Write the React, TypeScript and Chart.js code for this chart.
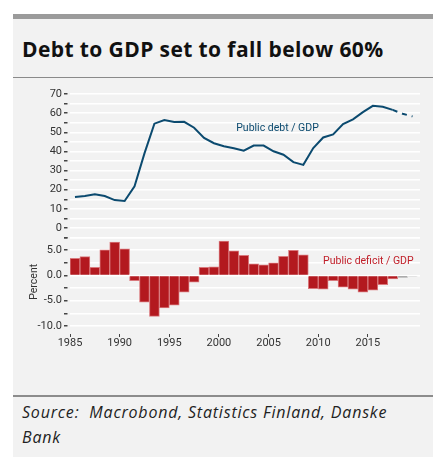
import React, { useEffect, useRef } from "react";
import { Chart, registerables } from "chart.js";

Chart.register(...registerables);

const years = [
  1985, 1986, 1987, 1988, 1989, 1990, 1991, 1992, 1993, 1994, 1995, 1996,
  1997, 1998, 1999, 2000, 2001, 2002, 2003, 2004, 2005, 2006, 2007, 2008,
  2009, 2010, 2011, 2012, 2013, 2014, 2015, 2016, 2017, 2018, 2019,
];

// Public debt / GDP, actual (1985-2017)
const debtActual = [
  16.2, 16.7, 17.7, 16.7, 14.6, 14.1, 21.8, 39.0, 54.5, 56.4, 55.4, 55.5,
  52.4, 47.1, 44.3, 42.7, 41.7, 40.4, 43.1, 43.1, 40.1, 38.3, 34.4, 33.0,
  41.8, 47.3, 48.9, 54.3, 56.8, 60.5, 63.8, 63.3, 61.7,
];
// Forecast (2017-2019)
const debtForecastYears = [2017, 2018, 2019];
const debtForecast = [61.7, 59.7, 58.3];

// Public deficit / GDP (1985-2019)
const deficit = [
  3.4, 3.75, 1.6, 5.1, 6.6, 5.3, -1.0, -5.3, -8.1, -6.4, -5.9, -3.3, -1.3,
  1.6, 1.7, 6.8, 4.9, 4.0, 2.3, 2.1, 2.5, 3.8, 5.0, 4.1, -2.6, -2.7, -1.0,
  -2.3, -2.7, -3.3, -2.9, -1.8, -0.7, -0.4, -0.2,
];
// 'a' = actual, 'f1' = forecast, 'f2' = later forecast
const deficitKind = [
  "a", "a", "a", "a", "a", "a", "a", "a", "a", "a", "a", "a", "a", "a", "a",
  "a", "a", "a", "a", "a", "a", "a", "a", "a", "a", "a", "a", "a", "a", "a",
  "a", "a", "a", "f1", "f2",
];

const xTickYears = [1985, 1990, 1995, 2000, 2005, 2010, 2015];

const TITLE = "Debt to GDP set to fall below 60%";
const DEBT_LABEL = "Public debt / GDP";
const DEFICIT_LABEL = "Public deficit / GDP";
const SOURCE_1 = "Source:\u00a0 Macrobond, Statistics Finland, Danske";
const SOURCE_2 = "Bank";

const BLUE = "#0b4a6f";
const RED = "#b3191f";
const FONT = "Roboto, 'Noto Sans', sans-serif";
const TEXT_FONT = "'Open Sans', Roboto, sans-serif";

const barFill: Record<string, string> = { a: RED, f1: "#9a9a9a", f2: "#cfcfcf" };
const barEdge: Record<string, string> = { a: "#d9797d", f1: "#b5b5b5", f2: "#dedede" };

const labelPlugin = {
  id: "seriesLabels",
  afterDatasetsDraw(chart: any) {
    const { ctx, scales } = chart;
    ctx.save();
    ctx.font = `10.5px ${FONT}`;
    ctx.textAlign = "center";
    ctx.textBaseline = "middle";
    ctx.fillStyle = BLUE;
    ctx.fillText(DEBT_LABEL, scales.x.getPixelForValue(2005.9), scales.yDebt.getPixelForValue(52.2));
    ctx.fillStyle = "#c0202a";
    ctx.fillText(DEFICIT_LABEL, scales.x.getPixelForValue(2015.05), scales.yDef.getPixelForValue(2.7));
    ctx.restore();
  },
};

function ChartView() {
  const ref = useRef<HTMLCanvasElement | null>(null);
  useEffect(() => {
    if (!ref.current) return;
    const mid = (y: number) => y + 0.5;
    const chart = new Chart(ref.current, {
      data: {
        datasets: [
          {
            type: "line",
            data: debtActual.map((v, i) => ({ x: mid(years[i]), y: v })),
            yAxisID: "yDebt",
            borderColor: BLUE,
            borderWidth: 2,
            pointRadius: 0,
            tension: 0,
          },
          {
            type: "line",
            data: debtForecast.map((v, i) => ({ x: mid(debtForecastYears[i]), y: v })),
            yAxisID: "yDebt",
            borderColor: BLUE,
            borderWidth: 2,
            borderDash: [5, 5],
            pointRadius: 0,
            tension: 0,
          },
          {
            type: "bar",
            data: deficit.map((v, i) => ({ x: mid(years[i]), y: v })),
            yAxisID: "yDef",
            backgroundColor: deficitKind.map((k) => barFill[k]),
            borderColor: deficitKind.map((k) => barEdge[k]),
            borderWidth: 1,
            barPercentage: 1,
            categoryPercentage: 1,
          },
        ],
      } as any,
      options: {
        animation: false,
        responsive: true,
        maintainAspectRatio: false,
        layout: { padding: { top: 14, right: 13, bottom: 18, left: 0 } },
        plugins: { legend: { display: false }, tooltip: { enabled: false } },
        scales: {
          x: {
            type: "linear",
            offset: false,
            min: 1985,
            max: 2020.25,
            border: { display: false },
            grid: {
              display: true,
              offset: false,
              drawOnChartArea: false,
              drawTicks: true,
              tickLength: 11,
              tickColor: "#444",
              tickBorderDash: [0, 8, 3, 50],
            },
            ticks: {
              autoSkip: false,
              maxRotation: 0,
              includeBounds: false,
              padding: 0,
              color: "#333",
              font: { family: FONT, size: 11 },
              callback: (v: any) => String(v),
            },
            afterBuildTicks: (s: any) => {
              s.ticks = xTickYears.map((v) => ({ value: v }));
            },
            afterFit: (s: any) => {
              s.height = 26;
            },
          },
          yDef: {
            type: "linear",
            position: "left",
            stack: "panels",
            stackWeight: 87.5,
            min: -10,
            max: 7.5,
            border: { display: false },
            grid: {
              color: "#ffffff",
              lineWidth: 1.5,
              tickColor: "#444",
              tickLength: 6,
              tickBorderDash: [3.5, 10],
            },
            ticks: {
              stepSize: 2.5,
              autoSkip: false,
              padding: 2,
              color: "#333",
              font: { family: FONT, size: 11 },
              callback: (v: any) => (Math.abs(Number(v) % 5) < 1e-9 ? Number(v).toFixed(1) : ""),
            },
            title: {
              display: true,
              text: "Percent",
              color: "#333",
              font: { family: FONT, size: 10.5 },
              padding: { top: 15, bottom: 0 },
            },
            afterFit: (s: any) => {
              s.width = 57;
            },
          },
          yDebt: {
            type: "linear",
            position: "left",
            stack: "panels",
            stackWeight: 142.2,
            min: -5,
            max: 70,
            border: { display: false },
            grid: {
              color: "#ffffff",
              lineWidth: 1.5,
              tickColor: "#444",
              tickLength: 6,
              tickBorderDash: [3.5, 10],
            },
            ticks: {
              stepSize: 5,
              autoSkip: false,
              padding: 2,
              color: "#333",
              font: { family: FONT, size: 11 },
              callback: (v: any) => (Math.abs(Number(v) % 10) < 1e-9 ? String(v) : ""),
            },
            afterFit: (s: any) => {
              s.width = 57;
            },
          },
        },
      } as any,
      plugins: [labelPlugin],
    });
    return () => chart.destroy();
  }, []);
  return <canvas ref={ref} />;
}

export default function App() {
  return (
    <div
      style={{
        position: "absolute",
        left: 0,
        top: 0,
        width: 433,
        height: 457,
        background: "#ffffff",
        overflow: "hidden",
        fontFamily: FONT,
      }}
    >
      <div
        style={{
          position: "absolute",
          left: 13,
          top: 14,
          width: 420,
          height: 443,
          background: "#f2f2f2",
          borderTop: "5px solid #9b9b9b",
        }}
      />
      <div
        style={{
          position: "absolute",
          left: 22,
          top: 34,
          fontFamily: TEXT_FONT,
          fontSize: 21,
          lineHeight: "30px",
          fontWeight: 700,
          letterSpacing: "0.4px",
          color: "#111",
          whiteSpace: "nowrap",
        }}
      >
        {TITLE}
      </div>
      <div style={{ position: "absolute", left: 13, top: 77, width: 420, height: 1, background: "#8a8a8a" }} />
      <div style={{ position: "absolute", left: 13, top: 80, width: 420, height: 290 }}>
        <ChartView />
      </div>
      <div style={{ position: "absolute", left: 13, top: 395, width: 420, height: 2, background: "#8c8c8c" }} />
      <div
        style={{
          position: "absolute",
          left: 22,
          top: 400,
          fontFamily: TEXT_FONT,
          fontSize: 16,
          lineHeight: "25px",
          fontStyle: "italic",
          letterSpacing: "0.8px",
          color: "#222",
          whiteSpace: "nowrap",
        }}
      >
        {SOURCE_1}
        <br />
        {SOURCE_2}
      </div>
    </div>
  );
}
